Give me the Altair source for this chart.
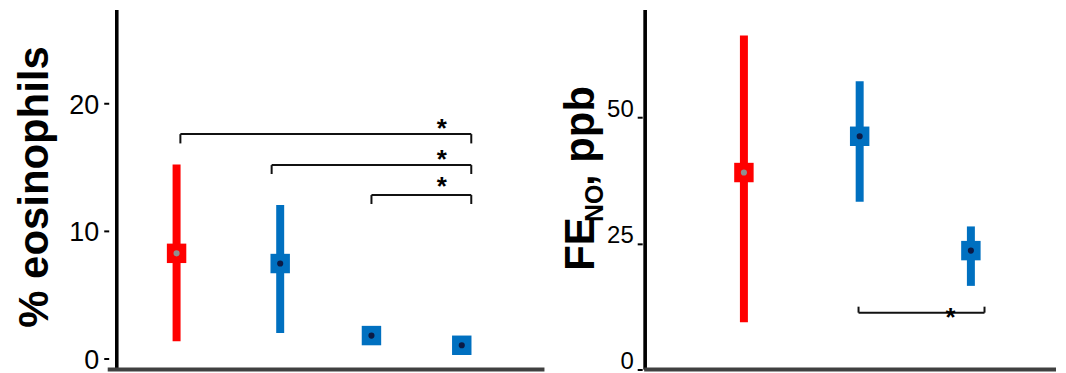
import altair as alt
import pandas as pd

# ---------------- data ----------------
# Left panel: % eosinophils
eos_groups = ["G1", "G2", "G3", "G4"]
eos_type = ["red", "blue", "blue", "blue"]
eos_pos = [1.0, 2.09, 3.05, 4.0]
eos_med = [8.23, 7.43, 1.78, 1.02]
eos_lo = [1.33, 1.99, 1.78, 1.02]
eos_hi = [15.2, 12.02, 1.78, 1.02]

eos_br_x1 = [1.04, 2.0, 3.05]
eos_br_x2 = [4.1, 4.1, 4.1]
eos_br_y = [17.58, 15.15, 12.8]
eos_br_end = [16.85, 14.45, 12.1]
eos_star_x = [3.79, 3.79, 3.79]
eos_star_y = [18.5, 16.1, 14.0]
eos_ticks = [0, 10, 20]

# Right panel: FeNO, ppb
feno_groups = ["G1", "G2", "G3"]
feno_type = ["red", "blue", "blue"]
feno_pos = [1.0, 2.02, 3.0]
feno_med = [39.1, 46.3, 23.6]
feno_lo = [9.36, 33.3, 16.6]
feno_hi = [66.3, 57.2, 28.4]

feno_br_x1 = [2.01]
feno_br_x2 = [3.12]
feno_br_y = [11.28]
feno_br_end = [12.47]
feno_star_x = [2.82]
feno_star_y = [11.7]
feno_ticks = [0, 25, 50]

# ---------------- styles ----------------
FONT = "Liberation Sans"
W1, W2, H = 429, 412, 362
main_scale = alt.Scale(domain=["red", "blue"], range=["#ff0000", "#0070c0"])
dot_scale = alt.Scale(domain=["red", "blue"], range=["#8f8f8f", "#0b1a45"])


def panel(groups, types, pos, med, lo, hi, bx1, bx2, by, bend, sx, sy,
          xdom, ydom, width, axis, extra=None):
    df = pd.DataFrame({"group": groups, "type": types, "pos": pos,
                       "med": med, "lo": lo, "hi": hi})
    xs = alt.Scale(domain=xdom, nice=False, zero=False)
    ys = alt.Scale(domain=ydom, nice=False, zero=False)
    X = alt.X("pos:Q", scale=xs, axis=None)

    base = alt.Chart(df)
    whisk = base.mark_rule(strokeWidth=8).encode(
        x=X, y=alt.Y("lo:Q", scale=ys, axis=axis), y2="hi:Q",
        color=alt.Color("type:N", scale=main_scale, legend=None))
    box = base.mark_square(size=380, opacity=1).encode(
        x=X, y=alt.Y("med:Q", scale=ys),
        color=alt.Color("type:N", scale=main_scale, legend=None))
    dot = base.mark_circle(size=38, opacity=1).encode(
        x=X, y=alt.Y("med:Q", scale=ys),
        color=alt.Color("type:N", scale=dot_scale, legend=None))

    br = pd.DataFrame({"x1": bx1, "x2": bx2, "y": by, "yend": bend})
    brc = alt.Chart(br)
    hline = brc.mark_rule(color="#111111", strokeWidth=2).encode(
        x=alt.X("x1:Q", scale=xs), x2="x2:Q", y=alt.Y("y:Q", scale=ys))
    v1 = brc.mark_rule(color="#111111", strokeWidth=2).encode(
        x=alt.X("x1:Q", scale=xs), y=alt.Y("y:Q", scale=ys), y2="yend:Q")
    v2 = brc.mark_rule(color="#111111", strokeWidth=2).encode(
        x=alt.X("x2:Q", scale=xs), y=alt.Y("y:Q", scale=ys), y2="yend:Q")
    st = pd.DataFrame({"sx": sx, "sy": sy, "t": ["*"] * len(sx)})
    stars = alt.Chart(st).mark_text(font=FONT, fontSize=26, fontWeight="bold",
                                    baseline="alphabetic", dy=15,
                                    color="black").encode(
        x=alt.X("sx:Q", scale=xs), y=alt.Y("sy:Q", scale=ys), text="t:N")

    vline = base.mark_rule(color="black", strokeWidth=3).encode(
        x=alt.value(0), y=alt.value(1.5), y2=alt.value(H))
    layers = [whisk, box, dot, hline, v1, v2, stars, vline]
    if extra:
        layers += extra
    return alt.layer(*layers).resolve_scale(color="independent").properties(
        width=width, height=H)


left_axis = alt.Axis(values=eos_ticks, domain=False, grid=False, offset=8,
                     tickSize=5, tickWidth=2, tickColor="black",
                     labelFont=FONT, labelFontSize=27, labelColor="black",
                     labelPadding=5, labelOffset=2,
                     title="% eosinophils", titleFont=FONT, titleFontSize=42,
                     titleFontWeight="bold", titleColor="black",
                     titleAngle=270, titleAlign="center",
                     titleBaseline="alphabetic", titleX=-61, titleY=178.5)

right_axis = alt.Axis(values=feno_ticks, domain=False, grid=False, offset=3,
                      tickSize=5, tickWidth=2, tickColor="black",
                      labelFont=FONT, labelFontSize=24, labelColor="black",
                      labelPadding=4, labelBaseline="alphabetic",
                      labelOffset=-1, title=None)

bottom_left = alt.Chart(pd.DataFrame({"a": [0]})).mark_rule(
    color="#404040", strokeWidth=4).encode(
    x=alt.value(-9), x2=alt.value(W1), y=alt.value(H))
bottom_right = alt.Chart(pd.DataFrame({"a": [0]})).mark_rule(
    color="#404040", strokeWidth=4).encode(
    x=alt.value(-1), x2=alt.value(W2), y=alt.value(H))


def tpart(txt, size, x, y):
    return alt.Chart(pd.DataFrame({"t": [txt]})).mark_text(
        font=FONT, fontSize=size, fontWeight="bold", angle=270, align="left",
        baseline="alphabetic", color="black").encode(
        x=alt.value(x), y=alt.value(y), text="t:N")


title_parts = [tpart("FE", 42, -51, 263),
               tpart("NO", 25, -42, 214),
               tpart(", ppb", 42, -51, 178)]

left = panel(eos_groups, eos_type, eos_pos, eos_med, eos_lo, eos_hi,
             eos_br_x1, eos_br_x2, eos_br_y, eos_br_end, eos_star_x, eos_star_y,
             [0.37, 4.87], [-0.88, 27.43], W1, left_axis, [bottom_left])
right = panel(feno_groups, feno_type, feno_pos, feno_med, feno_lo, feno_hi,
              feno_br_x1, feno_br_x2, feno_br_y, feno_br_end, feno_star_x,
              feno_star_y, [0.13, 3.75], [0, 71.66], W2, right_axis,
              [bottom_right] + title_parts)

chart = alt.hconcat(left, right, spacing=101, bounds="flush").properties(
    padding={"left": 5, "top": 0, "right": 0, "bottom": 0},
    background="white").configure_view(stroke=None)

chart.save("out.html", embed_options={"renderer": "svg", "actions": False})
